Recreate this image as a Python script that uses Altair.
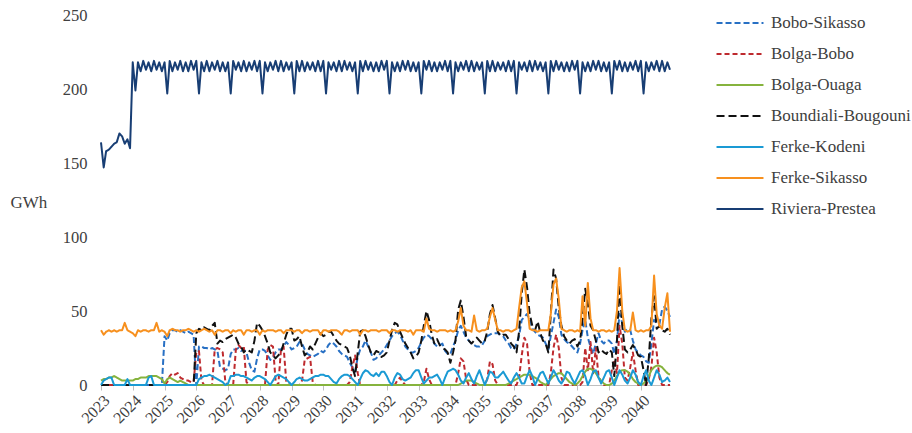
import altair as alt
import pandas as pd

# Monthly interconnector flows, Jan 2023 - Dec 2040 (GWh), one row of 12 months per year
series_names = [
    "Bobo-Sikasso", "Bolga-Bobo", "Bolga-Ouaga", "Boundiali-Bougouni",
    "Ferke-Kodeni", "Ferke-Sikasso", "Riviera-Prestea",
]
years = list(range(2023, 2041))

bobo_sikasso = [
    0, 0, 0, 0, 0, 0, 0, 0, 0, 0, 0, 0,                 # 2023
    0, 0, 0, 0, 0, 0, 0, 0, 0, 0, 0, 0,                 # 2024
    33, 30, 35, 37, 37, 36, 37, 36, 35, 36, 35, 34,     # 2025
    0, 26, 26, 25, 25, 24, 25, 24, 23, 12, 11, 10,      # 2026
    11, 21, 24, 24, 25, 23, 24, 22, 15, 10, 9, 18,      # 2027
    24, 24, 23, 20, 17, 19, 22, 24, 24, 26, 29, 27,     # 2028
    24, 25, 26, 29, 28, 24, 21, 20, 19, 20, 21, 23,     # 2029
    22, 24, 27, 29, 28, 26, 23, 21, 20, 19, 15, 12,     # 2030
    9, 19, 24, 26, 30, 26, 22, 17, 18, 20, 22, 24,      # 2031
    27, 30, 33, 35, 36, 34, 30, 26, 24, 22, 22, 23,     # 2032
    25, 29, 32, 34, 33, 31, 28, 26, 27, 28, 23, 21,     # 2033
    21, 26, 30, 37, 40, 36, 32, 30, 28, 27, 26, 26,     # 2034
    27, 30, 33, 34, 35, 35, 35, 34, 33, 30, 28, 25,     # 2035
    24, 28, 33, 44, 46, 48, 44, 38, 36, 34, 33, 32,     # 2036
    28, 24, 33, 42, 51, 46, 34, 31, 29, 28, 26, 24,     # 2037
    22, 28, 37, 44, 32, 26, 21, 28, 35, 30, 28, 30,     # 2038
    30, 28, 21, 30, 48, 42, 36, 38, 37, 30, 24, 22,     # 2039
    20, 19, 16, 15, 28, 44, 42, 41, 51, 53, 50, 46,     # 2040
]

bolga_bobo = [
    0, 0, 0, 0, 0, 0, 0, 0, 0, 0, 0, 0,                 # 2023
    0, 0, 0, 0, 0, 0, 0, 0, 0, 0, 0, 0,                 # 2024
    0, 2, 6, 8, 7, 8, 5, 4, 3, 3, 2, 2,                 # 2025
    22, 23, 3, 0, 0, 0, 0, 24, 25, 24, 22, 2,           # 2026
    0, 0, 0, 24, 27, 25, 26, 2, 0, 0, 0, 0,             # 2027
    0, 0, 0, 24, 27, 26, 3, 0, 24, 26, 2, 0,            # 2028
    0, 0, 0, 0, 3, 17, 18, 19, 2, 0, 0, 0,              # 2029
    0, 0, 0, 0, 0, 0, 0, 0, 0, 0, 2, 12,                # 2030
    20, 8, 0, 0, 0, 0, 0, 0, 0, 0, 0, 0,                # 2031
    0, 0, 0, 0, 3, 5, 2, 0, 0, 0, 0, 0,                 # 2032
    0, 0, 2, 11, 4, 0, 0, 0, 0, 0, 0, 0,                # 2033
    0, 0, 0, 8, 18, 16, 4, 0, 0, 0, 0, 0,               # 2034
    0, 0, 4, 16, 14, 3, 0, 0, 0, 0, 0, 0,               # 2035
    0, 0, 5, 20, 32, 28, 8, 0, 0, 0, 0, 0,              # 2036
    0, 0, 8, 25, 34, 25, 5, 0, 0, 0, 0, 0,              # 2037
    0, 0, 2, 25, 10, 29, 8, 25, 6, 2, 0, 0,             # 2038
    0, 10, 17, 8, 40, 28, 5, 3, 12, 22, 10, 0,          # 2039
    0, 0, 0, 4, 12, 32, 22, 5, 0, 0, 0, 0,              # 2040
]

bolga_ouaga = [
    3, 4, 4, 5, 5, 6, 5, 4, 3, 3, 3, 3,                 # 2023
    3, 4, 4, 5, 5, 5, 6, 6, 6, 6, 5, 4,                 # 2024
    1, 4, 5, 4, 3, 2, 3, 2, 1, 0, 0, 0,                 # 2025
    0, 0, 0, 0, 0, 0, 0, 0, 0, 0, 0, 0,                 # 2026
    0, 0, 0, 0, 0, 0, 0, 0, 0, 0, 0, 0,                 # 2027
    0, 0, 0, 0, 0, 0, 0, 0, 0, 0, 0, 0,                 # 2028
    0, 0, 0, 0, 0, 0, 0, 0, 0, 0, 0, 0,                 # 2029
    0, 0, 0, 0, 0, 0, 0, 0, 0, 0, 0, 0,                 # 2030
    0, 0, 0, 0, 0, 0, 0, 0, 0, 0, 0, 0,                 # 2031
    0, 0, 0, 0, 0, 0, 0, 0, 0, 0, 0, 0,                 # 2032
    0, 0, 0, 0, 0, 0, 0, 0, 0, 0, 0, 0,                 # 2033
    0, 0, 0, 0, 1, 2, 3, 3, 3, 2, 1, 0,                 # 2034
    0, 0, 0, 0, 0, 0, 0, 0, 0, 0, 1, 2,                 # 2035
    3, 4, 5, 6, 7, 7, 7, 6, 5, 4, 2, 1,                 # 2036
    0, 2, 4, 6, 7, 8, 8, 6, 4, 2, 1, 0,                 # 2037
    1, 3, 6, 9, 11, 11, 10, 8, 5, 3, 1, 0,              # 2038
    0, 1, 3, 6, 9, 10, 10, 9, 7, 4, 2, 1,               # 2039
    0, 1, 3, 6, 10, 12, 13, 13, 12, 10, 8, 7,           # 2040
]

boundiali_bougouni = [
    0, 0, 0, 0, 0, 0, 0, 0, 0, 0, 0, 0,                 # 2023
    0, 0, 0, 0, 0, 0, 0, 0, 0, 0, 0, 0,                 # 2024
    0, 0, 0, 0, 0, 0, 0, 0, 0, 0, 0, 0,                 # 2025
    35, 38, 37, 39, 38, 37, 40, 42, 28, 30, 29, 31,     # 2026
    32, 33, 34, 32, 28, 26, 22, 24, 23, 22, 30, 42,     # 2027
    40, 37, 33, 28, 22, 20, 18, 20, 22, 28, 34, 38,     # 2028
    38, 30, 31, 33, 26, 20, 22, 26, 24, 28, 32, 35,     # 2029
    33, 34, 36, 36, 33, 30, 28, 27, 26, 25, 20, 12,     # 2030
    6, 22, 36, 37, 33, 27, 22, 20, 23, 22, 19, 20,      # 2031
    22, 30, 37, 42, 41, 36, 32, 28, 25, 22, 18, 19,     # 2032
    22, 30, 40, 50, 44, 34, 28, 31, 27, 25, 24, 22,     # 2033
    15, 22, 30, 51, 57, 46, 33, 30, 28, 30, 32, 30,     # 2034
    28, 30, 36, 48, 54, 45, 36, 33, 34, 34, 31, 28,     # 2035
    26, 22, 36, 62, 78, 66, 48, 40, 37, 43, 35, 30,     # 2036
    28, 22, 48, 78, 72, 52, 40, 33, 30, 28, 30, 31,     # 2037
    26, 30, 44, 65, 55, 40, 37, 30, 22, 24, 22, 21,     # 2038
    24, 22, 6, 30, 68, 40, 24, 22, 24, 27, 24, 20,      # 2039
    19, 10, 0, 18, 45, 60, 38, 40, 37, 36, 38, 34,      # 2040
]

ferke_kodeni = [
    0, 3, 4, 5, 5, 0, 0, 0, 0, 0, 4, 0,                 # 2023
    0, 0, 0, 0, 0, 0, 5, 6, 0, 0, 0, 0,                 # 2024
    0, 0, 0, 0, 0, 0, 0, 0, 0, 0, 0, 0,                 # 2025
    0, 4, 5, 6, 6, 7, 6, 5, 4, 3, 2, 0,                 # 2026
    1, 6, 6, 7, 7, 6, 6, 5, 4, 3, 5, 6,                 # 2027
    6, 5, 4, 2, 0, 3, 6, 7, 6, 5, 4, 2,                 # 2028
    0, 2, 4, 5, 4, 3, 3, 4, 5, 6, 6, 7,                 # 2029
    7, 6, 6, 4, 2, 1, 4, 6, 7, 7, 6, 4,                 # 2030
    2, 0, 4, 8, 10, 9, 7, 6, 8, 6, 9, 9,                # 2031
    6, 2, 0, 5, 8, 7, 4, 3, 4, 5, 8, 10,                # 2032
    10, 5, 1, 3, 5, 5, 6, 7, 4, 0, 5, 9,                # 2033
    10, 11, 10, 7, 3, 1, 5, 8, 4, 1, 6, 10,             # 2034
    5, 0, 4, 9, 8, 5, 5, 7, 9, 6, 3, 1,                 # 2035
    5, 8, 5, 1, 1, 6, 10, 6, 0, 4, 8, 9,                # 2036
    5, 1, 5, 10, 7, 3, 1, 4, 9, 8, 4, 1,                # 2037
    5, 9, 10, 6, 0, 4, 9, 10, 5, 1, 5, 9,               # 2038
    10, 5, 0, 5, 10, 7, 3, 1, 5, 10, 7, 2,              # 2039
    0, 6, 10, 3, 0, 5, 10, 7, 2, 3, 5, 2,               # 2040
]

ferke_sikasso = [
    37, 34, 36, 37, 36, 37, 36, 37, 37, 42, 37, 36,     # 2023
    35, 33, 37, 36, 37, 37, 36, 37, 37, 42, 36, 37,     # 2024
    36, 33, 37, 38, 37, 37, 36, 37, 37, 38, 37, 36,     # 2025
    37, 36, 37, 38, 37, 36, 37, 34, 37, 37, 36, 37,     # 2026
    37, 35, 37, 36, 37, 37, 34, 37, 37, 36, 37, 37,     # 2027
    34, 37, 36, 37, 37, 37, 36, 37, 37, 35, 37, 37,     # 2028
    37, 36, 37, 37, 35, 37, 37, 36, 37, 37, 37, 34,     # 2029
    37, 37, 36, 37, 37, 37, 36, 34, 37, 37, 36, 37,     # 2030
    37, 37, 34, 37, 37, 36, 37, 37, 37, 36, 37, 37,     # 2031
    37, 35, 37, 37, 36, 37, 37, 37, 36, 37, 34, 37,     # 2032
    37, 37, 36, 45, 38, 37, 37, 36, 37, 37, 37, 36,     # 2033
    37, 36, 37, 43, 52, 40, 37, 37, 36, 47, 37, 36,     # 2034
    37, 37, 38, 46, 52, 44, 37, 37, 36, 37, 37, 36,     # 2035
    37, 38, 52, 66, 70, 55, 38, 37, 37, 36, 37, 37,     # 2036
    37, 37, 48, 68, 72, 58, 38, 37, 36, 37, 37, 36,     # 2037
    37, 36, 60, 40, 69, 45, 37, 37, 36, 37, 37, 36,     # 2038
    37, 36, 37, 50, 79, 50, 37, 36, 37, 49, 37, 36,     # 2039
    37, 36, 37, 37, 40, 74, 48, 40, 38, 52, 62, 36,     # 2040
]

riviera_prestea = [
    164, 147, 158, 159, 161, 163, 164, 170, 168, 163, 166, 160,  # 2023
    218, 199, 218, 212, 219, 213, 218, 212, 219, 213, 218, 212,  # 2024
    218, 197, 219, 212, 218, 213, 219, 212, 218, 212, 219, 213,  # 2025
    219, 197, 218, 212, 219, 212, 218, 213, 219, 212, 218, 212,  # 2026
    218, 197, 219, 213, 218, 212, 219, 212, 218, 213, 219, 212,  # 2027
    219, 197, 218, 212, 218, 213, 219, 212, 219, 212, 218, 213,  # 2028
    218, 197, 219, 212, 219, 212, 218, 213, 218, 212, 219, 212,  # 2029
    219, 197, 218, 213, 218, 212, 219, 212, 219, 213, 218, 212,  # 2030
    218, 197, 219, 212, 219, 213, 218, 212, 218, 212, 219, 213,  # 2031
    219, 197, 218, 212, 218, 212, 219, 213, 219, 212, 218, 212,  # 2032
    218, 197, 219, 213, 219, 212, 218, 212, 218, 213, 219, 212,  # 2033
    219, 197, 218, 212, 218, 213, 219, 212, 219, 212, 218, 213,  # 2034
    218, 197, 219, 212, 219, 212, 218, 213, 218, 212, 219, 212,  # 2035
    219, 197, 218, 213, 218, 212, 219, 212, 219, 213, 218, 212,  # 2036
    218, 197, 219, 212, 219, 213, 218, 212, 218, 212, 219, 213,  # 2037
    219, 197, 218, 212, 218, 212, 219, 213, 219, 212, 218, 212,  # 2038
    218, 197, 219, 213, 219, 212, 218, 212, 218, 213, 219, 212,  # 2039
    219, 197, 218, 212, 218, 213, 219, 212, 219, 212, 218, 213,  # 2040
]

series_values = [
    bobo_sikasso, bolga_bobo, bolga_ouaga, boundiali_bougouni,
    ferke_kodeni, ferke_sikasso, riviera_prestea,
]

line_colors = ["#2870C4", "#BE2A2E", "#86B33D", "#111111", "#1A9AD4", "#F7901E", "#183E74"]
line_dashes = [[6, 3], [5, 3], [1, 0], [8, 4], [1, 0], [1, 0], [1, 0]]
line_widths = [2, 2, 2.2, 3, 3, 2.5, 2.8]

months = pd.date_range("2023-01-01", periods=len(years) * 12, freq="MS")
rows = []
for name, vals in zip(series_names, series_values):
    for d, v in zip(months, vals):
        rows.append({"date": d.strftime("%Y-%m-%d"), "series": name, "gwh": v})
df = pd.DataFrame(rows)

FONT = "Liberation Serif"
TEXT = "#404040"

legend = alt.Legend(
    title=None,
    orient="none",
    legendX=630,
    legendY=-1,
    symbolType="M-3,0H3",
    symbolSize=245,
    labelOffset=22,
    labelFontSize=17,
    labelColor=TEXT,
    rowPadding=14,
    padding=0,
)

chart = (
    alt.Chart(df)
    .mark_line(strokeJoin="round")
    .encode(
        x=alt.X(
            "date:T",
            scale=alt.Scale(
                domain=[alt.DateTime(year=2023, month=1, date=1),
                        alt.DateTime(year=2040, month=12, date=1)]
            ),
            axis=alt.Axis(
                title=None,
                values=[alt.DateTime(year=y, month=1, date=1) for y in years],
                format="%Y",
                labelAngle=-45,
                labelOverlap=False,
                labelFontSize=16,
                labelColor=TEXT,
                labelPadding=2,
                tickSize=5,
                tickColor="#BFBFBF",
                domainColor="#BFBFBF",
                grid=False,
            ),
        ),
        y=alt.Y(
            "gwh:Q",
            scale=alt.Scale(domain=[0, 250]),
            axis=alt.Axis(
                title="GWh",
                titleAngle=0,
                titleAlign="left",
                titleBaseline="middle",
                titleX=-91,
                titleY=187,
                titleFontSize=17,
                titleFontWeight="normal",
                titleColor=TEXT,
                values=[0, 50, 100, 150, 200, 250],
                labelFontSize=16.5,
                labelColor=TEXT,
                labelPadding=14,
                domain=False,
                ticks=False,
                grid=False,
            ),
        ),
        color=alt.Color("series:N", scale=alt.Scale(domain=series_names, range=line_colors), legend=legend),
        strokeDash=alt.StrokeDash("series:N", scale=alt.Scale(domain=series_names, range=line_dashes), legend=legend),
        strokeWidth=alt.StrokeWidth("series:N", scale=alt.Scale(domain=series_names, range=line_widths), legend=legend),
    )
    .properties(
        width=569,
        height=370,
        autosize=alt.AutoSizeParams(type="none"),
        padding={"left": 101, "top": 15, "right": 242, "bottom": 48},
    )
    .configure(background="white", font=FONT)
    .configure_axis(labelFont=FONT, titleFont=FONT)
    .configure_legend(labelFont=FONT)
    .configure_view(stroke=None)
)

chart.save("out.html", embed_options={"renderer": "svg", "actions": False})
